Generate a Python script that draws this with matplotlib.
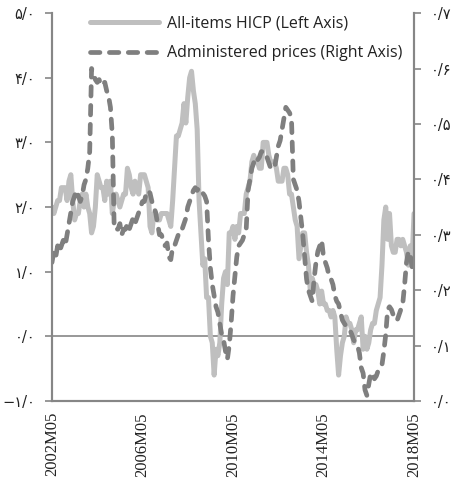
import matplotlib.pyplot as plt
import numpy as np

# monthly, 2002M05 .. 2018M05
start_year, start_month = 2002, 5

# All-items HICP (left axis)
hicp = [
    2.0, 1.9, 2.0, 2.1, 2.1, 2.3, 2.3, 2.3,
    2.1, 2.4, 2.5, 2.1, 1.8, 1.9, 1.9, 2.1, 2.2, 2.0, 2.2, 2.0,
    1.9, 1.6, 1.7, 2.0, 2.5, 2.4, 2.3, 2.3, 2.1, 2.4, 2.2, 2.4,
    1.9, 2.1, 2.2, 2.1, 2.0, 2.1, 2.2, 2.2, 2.6, 2.5, 2.3, 2.2,
    2.4, 2.3, 2.2, 2.5, 2.5, 2.5, 2.4, 2.3, 1.7, 1.6, 1.9, 1.9,
    1.8, 1.8, 1.9, 1.9, 1.9, 1.9, 1.8, 1.7, 2.1, 2.6, 3.1, 3.1,
    3.2, 3.3, 3.6, 3.3, 3.7, 4.0, 4.1, 3.8, 3.6, 3.2, 2.1, 1.6,
    1.1, 1.2, 0.6, 0.6, 0.0, -0.1, -0.6, -0.2, -0.3, -0.1, 0.5, 0.9,
    1.0, 0.8, 1.6, 1.6, 1.7, 1.5, 1.7, 1.6, 1.9, 1.9, 1.9, 2.2,
    2.3, 2.4, 2.7, 2.8, 2.7, 2.7, 2.6, 2.6, 3.0, 3.0, 3.0, 2.8,
    2.7, 2.7, 2.7, 2.6, 2.4, 2.4, 2.4, 2.6, 2.6, 2.5, 2.2, 2.2,
    2.0, 1.8, 1.7, 1.2, 1.4, 1.6, 1.6, 1.3, 1.1, 0.7, 0.9, 0.8,
    0.8, 0.7, 0.5, 0.7, 0.5, 0.5, 0.4, 0.4, 0.3, 0.4, 0.3, -0.2,
    -0.6, -0.3, -0.1, 0.0, 0.3, 0.2, 0.2, 0.1, -0.1, 0.1, 0.1, 0.2,
    0.3, -0.2, 0.0, -0.2, -0.1, 0.1, 0.2, 0.2, 0.4, 0.5, 0.6, 1.1,
    1.8, 2.0, 1.5, 1.9, 1.4, 1.3, 1.3, 1.5, 1.5, 1.4, 1.5, 1.4,
    1.3, 1.1, 1.4, 1.2, 1.9,
]

# Administered prices (right axis)
administered = [
    0.25, 0.27, 0.26, 0.28, 0.27, 0.28, 0.29, 0.28,
    0.30, 0.32, 0.34, 0.36, 0.37, 0.38, 0.37, 0.36, 0.37, 0.39, 0.40, 0.42,
    0.45, 0.60, 0.59, 0.58, 0.575, 0.58, 0.57, 0.575, 0.575, 0.56, 0.55, 0.53,
    0.48, 0.31, 0.31, 0.31, 0.32, 0.30, 0.31, 0.31, 0.32, 0.31, 0.32, 0.33,
    0.32, 0.33, 0.34, 0.35, 0.36, 0.36, 0.375, 0.38, 0.375, 0.36, 0.35, 0.34,
    0.32, 0.30, 0.30, 0.29, 0.28, 0.285, 0.26, 0.255, 0.278, 0.28, 0.29, 0.30,
    0.30, 0.31, 0.32, 0.33, 0.35, 0.36, 0.37, 0.38, 0.385, 0.38, 0.385, 0.38,
    0.375, 0.37, 0.36, 0.29, 0.24, 0.21, 0.19, 0.17, 0.16, 0.14, 0.12, 0.11,
    0.09, 0.075, 0.10, 0.14, 0.19, 0.224, 0.26, 0.28, 0.285, 0.29, 0.30, 0.31,
    0.38, 0.40, 0.42, 0.43, 0.44, 0.435, 0.44, 0.45, 0.45, 0.44, 0.44, 0.43,
    0.42, 0.42, 0.42, 0.44, 0.46, 0.47, 0.49, 0.51, 0.53, 0.525, 0.52, 0.51,
    0.40, 0.39, 0.38, 0.36, 0.33, 0.30, 0.26, 0.22, 0.20, 0.19, 0.18, 0.22,
    0.25, 0.27, 0.28, 0.29, 0.26, 0.25, 0.24, 0.224, 0.22, 0.21, 0.19, 0.18,
    0.175, 0.16, 0.146, 0.14, 0.135, 0.13, 0.128, 0.12, 0.11, 0.105, 0.10, 0.087,
    0.06, 0.05, 0.02, 0.01, 0.03, 0.05, 0.05, 0.04, 0.045, 0.055, 0.06, 0.065,
    0.09, 0.12, 0.165, 0.17, 0.165, 0.155, 0.15, 0.145, 0.155, 0.165, 0.175, 0.21,
    0.25, 0.27, 0.265, 0.24, 0.23,
]

n = len(hicp)
months = np.arange(n)
month_labels = []
for i in range(n):
    m = start_month - 1 + i
    month_labels.append('%dM%02d' % (start_year + m // 12, m % 12 + 1))

left_ticks = [-1, 0, 1, 2, 3, 4, 5]
left_labels = ['−۱/۰', '۰/۰', '۱/۰', '۲/۰', '۳/۰', '۴/۰', '۵/۰']
right_ticks = [0.0, 0.1, 0.2, 0.3, 0.4, 0.5, 0.6, 0.7]
right_labels = ['۰/۰', '۰/۱', '۰/۲', '۰/۳', '۰/۴', '۰/۵', '۰/۶', '۰/۷']

spine_color = '#868686'
light = '#BFBFBF'
dark = '#7F7F7F'

fig = plt.figure(figsize=(4.52, 4.86), dpi=100)
ax = fig.add_axes([0.115, 0.175, 0.801, 0.798])
ax2 = ax.twinx()

ax.axhline(0, color=spine_color, linewidth=1.2, zorder=1)
l1, = ax.plot(months, hicp, color=light, linewidth=3.6, solid_joinstyle='round',
              solid_capstyle='round', label='All-items HICP (Left Axis)', zorder=2)
l2, = ax2.plot(months, administered, color=dark, linewidth=3.4, linestyle=(0, (2.0, 2.0)),
               dash_capstyle='round', dash_joinstyle='round',
               label='Administered prices (Right Axis)')

ax.set_xlim(0, n - 1)
ax.set_ylim(-1, 5)
ax2.set_ylim(0, 0.7)

ax.set_yticks(left_ticks)
ax.set_yticklabels(left_labels, family=['DejaVu Sans'], fontsize=10.5, color='#222222')
ax2.set_yticks(right_ticks)
ax2.set_yticklabels(right_labels, family=['DejaVu Sans'], fontsize=10.5, color='#222222')

xt = [0, 48, 96, 144, 192]
ax.set_xticks(xt)
ax.set_xticklabels([month_labels[i] for i in xt], rotation=90,
                   family=['Liberation Serif'], fontsize=12, color='#222222')
ax.tick_params(axis='x', length=0, pad=8)
ax.tick_params(axis='y', length=5, width=1.2, color=spine_color, pad=7)
ax2.tick_params(axis='y', length=5, width=1.2, color=spine_color, pad=7)

for a in (ax, ax2):
    a.spines['top'].set_visible(False)
    for s in ('left', 'right', 'bottom'):
        a.spines[s].set_color(spine_color)
        a.spines[s].set_linewidth(1.5)

leg = ax2.legend(handles=[l1, l2], loc='upper left', bbox_to_anchor=(0.065, 1.03),
                 frameon=False, handlelength=4.3, handletextpad=0.5, labelspacing=0.85,
                 prop={'family': 'Open Sans', 'size': 11.5})
for t in leg.get_texts():
    t.set_color('#222222')

fig.savefig('out.png', dpi=100)
